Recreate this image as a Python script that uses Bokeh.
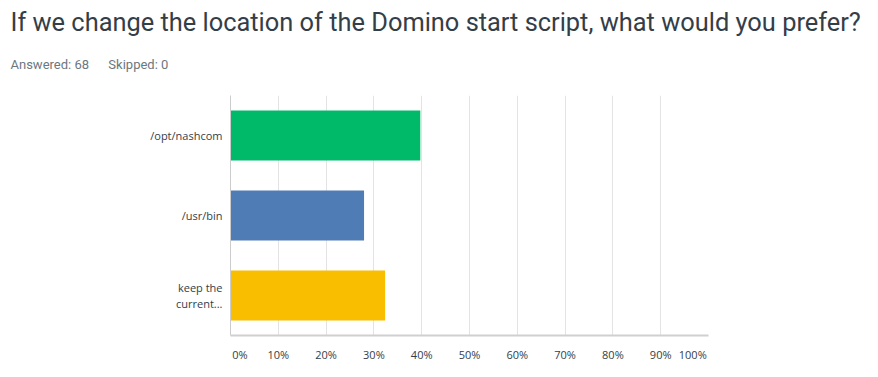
from bokeh.plotting import figure
from bokeh.models import FactorRange, Range1d, Title, FixedTicker, ColumnDataSource
from bokeh.embed import file_html
from bokeh.resources import INLINE

title_text = "If we change the location of the Domino start script, what would you prefer?"
subtitle_text = "Answered: 68\u00a0\u00a0\u00a0\u00a0\u00a0\u00a0Skipped: 0"
categories = ["/opt/nashcom", "/usr/bin", "keep the\ncurrent..."]
percent = [39.71, 27.94, 32.35]
colors = ["#00BA6A", "#507CB6", "#F9BE00"]
tick_values = [0, 10, 20, 30, 40, 50, 60, 70, 80, 90, 100]
tick_labels = ["0%", "10%", "20%", "30%", "40%", "50%", "60%", "70%", "80%", "90%", "100%"]

FONT = "Open Sans"
TFONT = "Roboto"
fs = "\u2007"

src = ColumnDataSource(dict(cat=categories, val=percent, color=colors))

p = figure(width=878, height=377, output_backend="svg", toolbar_location=None,
           y_range=FactorRange(factors=list(reversed(categories))),
           x_range=Range1d(0, 100), title=None,
           min_border_left=230, min_border_right=170, min_border_top=95, min_border_bottom=42)
p.outline_line_color = None
p.background_fill_color = "white"
p.border_fill_color = "white"

p.hbar(y="cat", right="val", left=0, height=0.625, color="color", source=src, line_color=None)

overrides = {v: l for v, l in zip(tick_values, tick_labels)}
overrides[0] = fs * 3 + "0%"
overrides[100] = "100%" + fs * 5
xa = p.xaxis[0]
xa.ticker = FixedTicker(ticks=tick_values)
xa.major_label_overrides = overrides
xa.major_tick_line_color = None
xa.minor_tick_line_color = None
xa.axis_line_color = "#D0D0D0"
xa.axis_line_width = 2
xa.major_label_text_font = FONT
xa.major_label_text_font_size = "11px"
xa.major_label_text_color = "#333E48"
xa.major_label_standoff = 5

ya = p.yaxis[0]
ya.major_tick_line_color = None
ya.minor_tick_line_color = None
ya.axis_line_color = "#CCCCCC"
ya.major_label_text_font = FONT
ya.major_label_text_font_size = "11px"
ya.major_label_text_color = "#333E48"
ya.major_label_standoff = 2
ya.major_label_text_line_height = 1.1

p.xgrid.grid_line_color = "#E3E3E3"
p.xgrid.ticker = FixedTicker(ticks=tick_values)
p.ygrid.grid_line_color = None

p.add_layout(Title(text=subtitle_text, text_font=TFONT, text_font_size="13px",
                   text_color="#6B787F", text_font_style="normal", offset=-220,
                   standoff=48), "above")
p.add_layout(Title(text=title_text, text_font=TFONT, text_font_size="25.4px",
                   text_color="#333E48", text_font_style="normal", offset=-220,
                   standoff=-12), "above")

open("out.html", "w").write(file_html(p, INLINE))
